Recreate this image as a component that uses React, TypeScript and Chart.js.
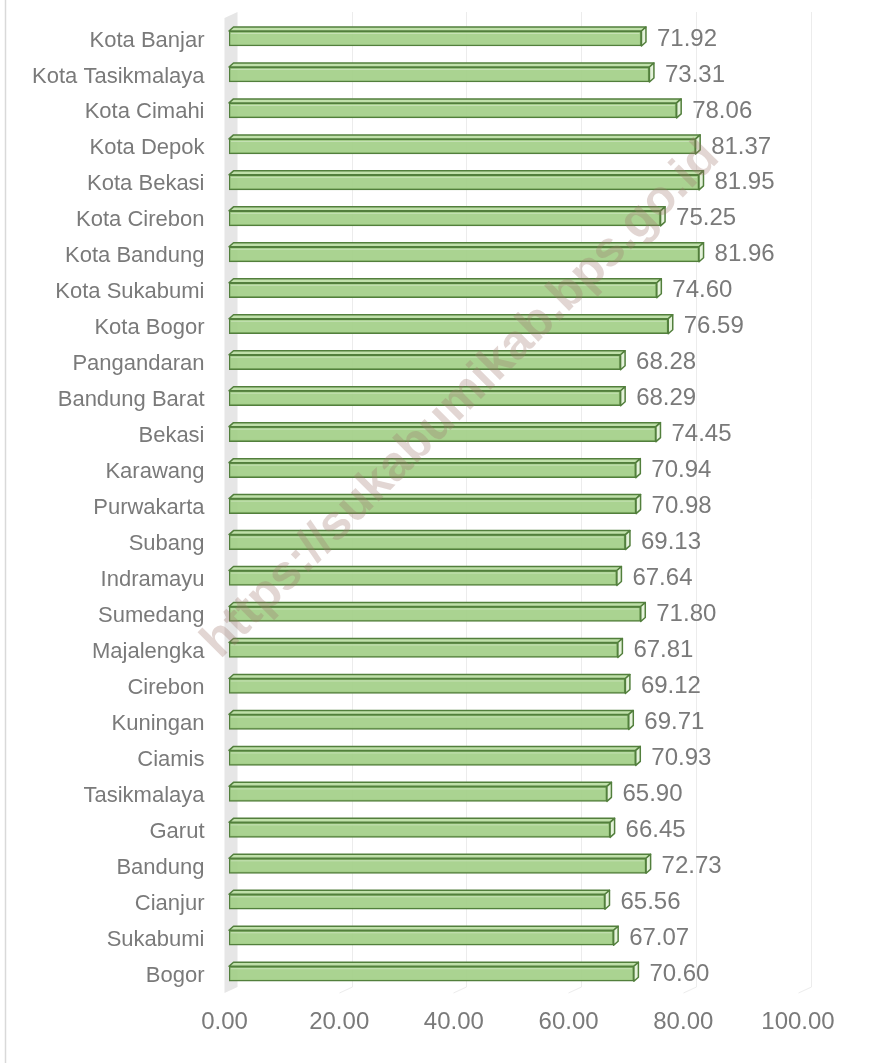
import React, { useEffect, useRef } from "react";
import { Chart, registerables } from "chart.js";

Chart.register(...registerables);

const categories = [
  "Kota Banjar",
  "Kota Tasikmalaya",
  "Kota Cimahi",
  "Kota Depok",
  "Kota Bekasi",
  "Kota Cirebon",
  "Kota Bandung",
  "Kota Sukabumi",
  "Kota Bogor",
  "Pangandaran",
  "Bandung Barat",
  "Bekasi",
  "Karawang",
  "Purwakarta",
  "Subang",
  "Indramayu",
  "Sumedang",
  "Majalengka",
  "Cirebon",
  "Kuningan",
  "Ciamis",
  "Tasikmalaya",
  "Garut",
  "Bandung",
  "Cianjur",
  "Sukabumi",
  "Bogor",
];

const values = [
  71.92, 73.31, 78.06, 81.37, 81.95, 75.25, 81.96, 74.6, 76.59, 68.28, 68.29,
  74.45, 70.94, 70.98, 69.13, 67.64, 71.8, 67.81, 69.12, 69.71, 70.93, 65.9,
  66.45, 72.73, 65.56, 67.07, 70.6,
];

const xTicks = [0, 20, 40, 60, 80, 100];

const watermark = "https://sukabumikab.bps.go.id";

const W = 886;
const H = 1063;
const FONT = "'Liberation Sans', Arial, sans-serif";
const TEXT = "#7a7a7a";
const EDGE = "#527f3c";

const backdrop = {
  id: "backdrop",
  beforeDraw(chart: any) {
    const { ctx } = chart;
    const xs = chart.scales.x;
    ctx.save();
    ctx.fillStyle = "#ffffff";
    ctx.fillRect(0, 0, W, H);
    // outer frame line
    ctx.strokeStyle = "#d9d9d9";
    ctx.lineWidth = 1.5;
    ctx.beginPath();
    ctx.moveTo(5.5, 0);
    ctx.lineTo(5.5, H);
    ctx.stroke();
    // side wall
    const p0 = xs.getPixelForValue(0);
    ctx.fillStyle = "#e6e6e6";
    ctx.beginPath();
    ctx.moveTo(p0 - 4.5, 18);
    ctx.lineTo(p0 + 8.5, 12);
    ctx.lineTo(p0 + 8.5, 987);
    ctx.lineTo(p0 - 4.5, 993);
    ctx.closePath();
    ctx.fill();
    // back gridlines + floor lines
    ctx.strokeStyle = "#ececec";
    ctx.lineWidth = 1;
    xTicks.forEach((v) => {
      if (v === 0) return;
      const p = Math.round(xs.getPixelForValue(v)) + 0.5;
      ctx.beginPath();
      ctx.moveTo(p + 8, 12);
      ctx.lineTo(p + 8, 987);
      ctx.lineTo(p - 5, 993);
      ctx.stroke();
    });
    ctx.restore();
  },
};

const bars3d = {
  id: "bars3d",
  afterDatasetsDraw(chart: any) {
    const { ctx } = chart;
    const meta = chart.getDatasetMeta(0);
    const dx = 4.5;
    const dy = 4;
    ctx.save();
    meta.data.forEach((el: any, i: number) => {
      const x0 = el.base;
      const x1 = el.x;
      const yT = el.y - el.height / 2;
      const yB = el.y + el.height / 2;
      ctx.lineWidth = 1.5;
      ctx.strokeStyle = EDGE;
      ctx.lineJoin = "round";
      // top face
      ctx.fillStyle = "#c0e0aa";
      ctx.beginPath();
      ctx.moveTo(x0, yT);
      ctx.lineTo(x0 + dx, yT - dy);
      ctx.lineTo(x1 + dx, yT - dy);
      ctx.lineTo(x1, yT);
      ctx.closePath();
      ctx.fill();
      ctx.stroke();
      // right face
      ctx.fillStyle = "#e4f2da";
      ctx.beginPath();
      ctx.moveTo(x1, yT);
      ctx.lineTo(x1 + dx, yT - dy);
      ctx.lineTo(x1 + dx, yB - dy);
      ctx.lineTo(x1, yB);
      ctx.closePath();
      ctx.fill();
      ctx.stroke();
      // inner highlight on the front face
      ctx.strokeStyle = "rgba(255,255,255,0.35)";
      ctx.lineWidth = 1;
      ctx.beginPath();
      ctx.moveTo(x0 + 2, yT + 2.5);
      ctx.lineTo(x1 - 2, yT + 2.5);
      ctx.stroke();
      // value label
      ctx.fillStyle = TEXT;
      ctx.font = `24px ${FONT}`;
      ctx.textAlign = "left";
      ctx.textBaseline = "middle";
      ctx.fillText(values[i].toFixed(2), x1 + 15.5, el.y + 0.5);
    });
    ctx.restore();
  },
};

const mark = {
  id: "mark",
  afterDraw(chart: any) {
    const { ctx } = chart;
    ctx.save();
    ctx.translate(461, 400);
    ctx.rotate(-Math.PI / 4);
    ctx.font = `bold 49px ${FONT}`;
    ctx.textAlign = "center";
    ctx.textBaseline = "middle";
    ctx.fillStyle = "rgba(160,118,108,0.3)";
    ctx.fillText(watermark, 0, 0);
    ctx.restore();
  },
};

export default function App() {
  const ref = useRef<HTMLCanvasElement | null>(null);

  useEffect(() => {
    if (!ref.current) return;
    const chart = new Chart(ref.current, {
      type: "bar",
      data: {
        labels: categories,
        datasets: [
          {
            data: values,
            backgroundColor: "rgba(163,207,136,0.92)",
            borderColor: EDGE,
            borderWidth: 1.5,
            borderSkipped: false,
            barThickness: 15,
          },
        ],
      },
      options: {
        indexAxis: "y",
        animation: false,
        responsive: false,
        devicePixelRatio: 1,
        layout: { padding: { top: 20.5, right: 83.5, left: 0, bottom: 0 } },
        plugins: {
          legend: { display: false },
          tooltip: { enabled: false },
        },
        scales: {
          x: {
            min: 0,
            max: 100,
            grid: { display: false, drawTicks: false },
            border: { display: false },
            afterBuildTicks: (s: any) => {
              s.ticks = xTicks.map((v) => ({ value: v }));
            },
            afterFit: (s: any) => {
              s.height = 71.3;
              s.paddingLeft = 0;
              s.paddingRight = 0;
            },
            ticks: {
              color: TEXT,
              font: { size: 24, family: FONT },
              padding: 16,
              labelOffset: -4.5,
              maxRotation: 0,
              callback: (v: any) => Number(v).toFixed(2),
            },
          },
          y: {
            grid: { display: false, drawTicks: false },
            border: { display: false },
            afterFit: (s: any) => {
              s.width = 229;
              s.paddingTop = 0;
              s.paddingBottom = 0;
            },
            ticks: {
              color: TEXT,
              font: { size: 22, family: FONT },
              padding: 24.5,
              labelOffset: 2,
              autoSkip: false,
            },
          },
        },
      },
      plugins: [backdrop, bars3d, mark],
    } as any);
    return () => chart.destroy();
  }, []);

  return (
    <div style={{ position: "fixed", left: 0, top: 0, width: W, height: H }}>
      <canvas ref={ref} width={W} height={H} style={{ display: "block" }} />
    </div>
  );
}
